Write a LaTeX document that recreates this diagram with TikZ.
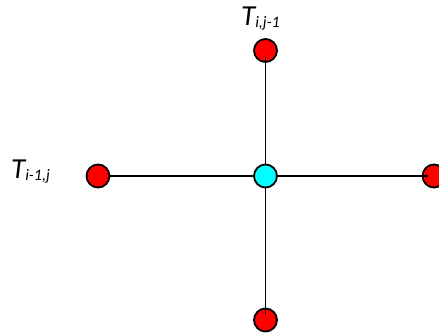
\documentclass[tikz,border=0pt]{standalone}
\usepackage{fontspec}
\setmainfont{Carlito}
\definecolor{dotred}{RGB}{255,0,0}
\definecolor{dotcyan}{RGB}{0,255,255}
\begin{document}
\begin{tikzpicture}[x=1pt,y=-1pt,
  dot/.style={circle,draw=black,line width=1.8pt,minimum size=23pt,inner sep=0pt},
  reddot/.style={dot,fill=dotred},
  cyandot/.style={dot,fill=dotcyan},
  link/.style={draw=black,line width=1.9pt},
  lbl/.style={inner sep=0pt,font=\fontsize{29}{29}\selectfont\itshape},
  sub/.style={}]
\useasboundingbox (0,0) rectangle (439,333);
\clip (0,0) rectangle (439,333);
% outer nodes under the links
\node[reddot] (top) at (265.5,50.5) {};
\node[reddot] (bot) at (265.5,320) {};
\node[reddot] (right) at (434,176) {};
% link end points
\coordinate (ta) at ([yshift=-6.5pt]top.center);
\coordinate (ba) at ([yshift=5pt]bot.center);
\coordinate (ra) at ([xshift=-6.5pt]right.center);
\draw[link] (ta) -- (ba);
\draw[link] (ra) -- (265.5,176) coordinate (c0);
\node[reddot] (left) at (98,176) {};
\draw[link] (left.east) -- (c0);
\node[cyandot] (mid) at (c0) {};
% labels
\node[lbl,anchor=base west] (ltop) at (241,25) {T{\fontsize{16}{16}\selectfont\raisebox{-2.5pt}{i,j-1}}};
\node[lbl,anchor=base west] (lleft) at (11,178) {T{\fontsize{16}{16}\selectfont\raisebox{-2.5pt}{i-1,j}}};
\end{tikzpicture}
\end{document}
